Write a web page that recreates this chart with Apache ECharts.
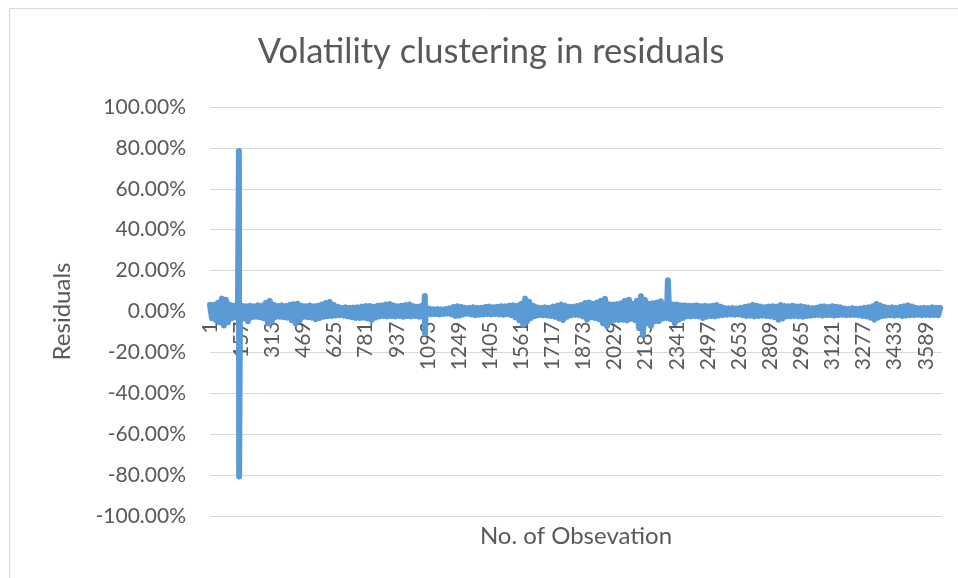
<!DOCTYPE html>
<html>
<head>
<meta charset="utf-8">
<title>Volatility clustering in residuals</title>
<script src="https://cdn.jsdelivr.net/npm/echarts@6/dist/echarts.min.js"></script>
<style>
  html, body { margin: 0; padding: 0; background: #fff; }
  #chart { width: 958px; height: 578px; }
</style>
</head>
<body>
<div id="chart"></div>
<script>
// number of observations on the x axis (labels 1, 157, 313 ...)
const obsCount = 3670;
const categories = Array.from({ length: obsCount }, (_, i) => String(i + 1));

// residuals in %
// upper swing every 20 obs (obs index 0, 20, 40 ...)
const upperResid = [
  3.3, 3.3, 4.3, 6.3, 5.8, 3.3, 2.8, 2.8, 2.8, 2.6,
  2.8, 2.6, 3.0, 2.8, 4.3, 5.2, 3.3, 2.7, 3.0, 2.7,
  3.3, 3.6, 3.8, 2.8, 2.6, 2.9, 2.6, 2.8, 3.4, 4.2,
  4.7, 3.3, 2.3, 1.8, 2.0, 1.8, 1.9, 2.0, 2.4, 2.7,
  2.7, 2.3, 2.8, 3.0, 3.4, 3.7, 3.0, 2.6, 2.8, 3.2,
  3.4, 2.6, 2.3, 2.8, 2.2, 1.4, 1.1, 1.2, 1.0, 1.2,
  1.6, 2.2, 2.6, 2.2, 1.8, 1.8, 2.0, 1.8, 1.8, 2.2,
  2.4, 2.1, 2.3, 2.6, 2.5, 2.8, 3.0, 2.8, 3.8, 6.3,
  4.8, 2.8, 2.0, 1.8, 2.0, 1.8, 2.4, 2.8, 3.4, 2.8,
  2.3, 2.3, 2.7, 3.2, 4.2, 4.4, 3.8, 4.4, 5.2, 6.2,
  3.6, 3.4, 3.6, 4.0, 5.2, 5.8, 3.8, 5.2, 7.5, 5.8,
  3.8, 4.0, 4.4, 5.0, 3.8, 3.4, 3.4, 3.4, 3.0, 3.0,
  2.8, 2.8, 3.0, 2.6, 2.8, 2.6, 2.8, 3.2, 2.3, 1.7,
  1.5, 1.7, 1.4, 1.8, 2.2, 2.6, 3.2, 2.8, 2.4, 2.1,
  2.4, 2.6, 2.4, 3.2, 2.7, 2.5, 2.8, 2.4, 2.6, 2.2,
  1.9, 1.6, 1.8, 2.4, 2.5, 2.2, 2.6, 2.3, 2.0, 1.4,
  1.3, 1.6, 1.3, 1.4, 1.8, 2.0, 2.6, 3.7, 3.0, 2.2,
  1.8, 2.0, 1.8, 2.2, 2.6, 3.0, 2.4, 1.8, 1.6, 1.8,
  1.7, 2.0, 1.8, 1.8
];
// lower swing every 20 obs, offset by 10 (obs index 10, 30, 50 ...)
const lowerResid = [
  -3.3, -4.3, -5.3, -6.8, -5.3, -3.3, -2.8, -3.3, -3.3, -4.8,
  -2.8, -2.6, -2.8, -3.3, -5.7, -4.8, -2.7, -2.6, -2.8, -3.0,
  -4.3, -5.8, -4.3, -2.6, -2.8, -3.0, -3.8, -3.2, -2.6, -2.3,
  -2.2, -2.0, -1.8, -2.0, -2.4, -2.8, -3.2, -3.2, -3.0, -3.4,
  -4.2, -3.0, -2.4, -2.2, -2.4, -2.2, -2.4, -2.2, -2.6, -2.2,
  -2.4, -2.2, -2.6, -2.6, -1.4, -1.3, -1.2, -1.4, -1.2, -1.0,
  -1.4, -2.2, -2.0, -1.4, -1.0, -1.4, -1.8, -1.6, -1.4, -1.3,
  -1.4, -1.2, -1.4, -1.6, -1.3, -1.8, -2.8, -4.3, -6.5, -4.8,
  -3.2, -2.2, -1.8, -1.8, -2.0, -2.2, -2.6, -3.4, -4.2, -2.6,
  -1.8, -1.6, -1.8, -2.4, -4.0, -2.8, -3.2, -3.8, -5.7, -7.1,
  -4.8, -4.0, -4.2, -4.0, -4.4, -3.6, -4.2, -7.8, -11.4, -5.8,
  -7.1, -4.8, -4.7, -3.4, -3.2, -3.8, -5.7, -4.0, -3.2, -2.4,
  -2.4, -2.2, -2.4, -3.2, -2.6, -2.2, -2.4, -2.0, -1.7, -1.6,
  -1.4, -1.6, -1.4, -1.8, -2.2, -2.0, -2.4, -2.2, -2.0, -2.2,
  -2.4, -2.8, -4.0, -3.4, -2.4, -2.4, -2.2, -2.4, -2.6, -2.2,
  -2.0, -1.8, -1.7, -2.0, -1.8, -1.7, -2.0, -1.7, -1.6, -1.8,
  -1.7, -1.6, -1.8, -2.2, -2.4, -3.0, -4.0, -3.0, -2.2, -2.0,
  -1.8, -2.0, -1.8, -2.2, -2.0, -1.8, -1.8, -1.6, -1.8, -1.7,
  -1.8, -1.7, -1.8
];
const sampleStep = 20;

// the big single-observation spikes
const spikeObs = [145, 146, 1077, 1078, 2295];
const spikeResid = [78.5, -80.7, 7.6, -10.6, 15.3];

// y axis ticks (%)
const yMin = -100;
const yMax = 100;
const yStep = 20;

// put everything on its observation index
let residData = [];
upperResid.forEach((v, k) => {
  residData.push([k * sampleStep, v]);
  if (lowerResid[k] !== undefined) {
    residData.push([k * sampleStep + sampleStep / 2, lowerResid[k]]);
  }
});
spikeObs.forEach((o, i) => {
  residData.push([o, spikeResid[i]]);
});
residData.sort((a, b) => a[0] - b[0]);

const textColor = '#595959';
const fontFamily = 'Lato, "Open Sans", sans-serif';

// grid box
const gridTop = 107;
const gridBottom = 62;
const gridHeight = 578 - gridTop - gridBottom;

const myChart = echarts.init(document.getElementById('chart'), null, { renderer: 'canvas' });

const option = {
  animation: false,
  backgroundColor: '#fff',
  title: {
    text: 'Volatility clustering in residuals',
    left: 486,
    top: 29,
    textAlign: 'center',
    textStyle: {
      color: textColor,
      fontFamily: fontFamily,
      fontSize: 34.5,
      fontWeight: 'normal',
    },
  },
  grid: {
    left: 210,
    right: 16,
    top: gridTop,
    bottom: gridBottom,
    outerBoundsMode: 'none',
  },
  xAxis: {
    type: 'category',
    data: categories,
    boundaryGap: false,
    position: 'bottom',
    // pull the axis (and its labels) up to the 0% line, like excel
    offset: -gridHeight / 2,
    axisLine: { show: false, onZero: false },
    axisTick: { show: false },
    axisLabel: {
      interval: 155,
      rotate: 90,
      margin: 10,
      color: textColor,
      fontFamily: fontFamily,
      fontSize: 21,
    },
    splitLine: { show: false },
  },
  yAxis: {
    type: 'value',
    min: yMin,
    max: yMax,
    interval: yStep,
    name: 'Residuals',
    nameLocation: 'middle',
    nameGap: 136,
    nameTextStyle: {
      color: textColor,
      fontFamily: fontFamily,
      fontSize: 24,
    },
    axisLine: { show: false },
    axisTick: { show: false },
    axisLabel: {
      margin: 24,
      color: textColor,
      fontFamily: fontFamily,
      fontSize: 21,
      formatter: (v) => {
        const s = Math.abs(v) < 1e-9 ? 0 : v;
        return s.toFixed(2) + '%';
      },
    },
    splitLine: {
      show: true,
      lineStyle: { color: '#d9d9d9', width: 1 },
    },
  },
  series: [
    {
      name: 'Residuals',
      type: 'line',
      data: residData,
      symbol: 'none',
      showSymbol: false,
      lineStyle: {
        color: '#5b9bd5',
        width: 6,
        cap: 'round',
        join: 'round',
      },
    },
  ],
  graphic: [
    // chart frame
    {
      type: 'rect',
      shape: { x: 9.5, y: 8.5, width: 960, height: 580 },
      style: { fill: 'none', stroke: '#d9d9d9', lineWidth: 1 },
      silent: true,
    },
    // x axis title sits at the bottom
    {
      type: 'text',
      x: 576,
      y: 536,
      style: {
        text: 'No. of Obsevation',
        fill: textColor,
        font: '24px ' + fontFamily,
        textAlign: 'center',
        textVerticalAlign: 'middle',
      },
    },
  ],
};

myChart.setOption(option);
window.addEventListener('resize', () => {
  myChart.resize();
});
</script>
</body>
</html>
